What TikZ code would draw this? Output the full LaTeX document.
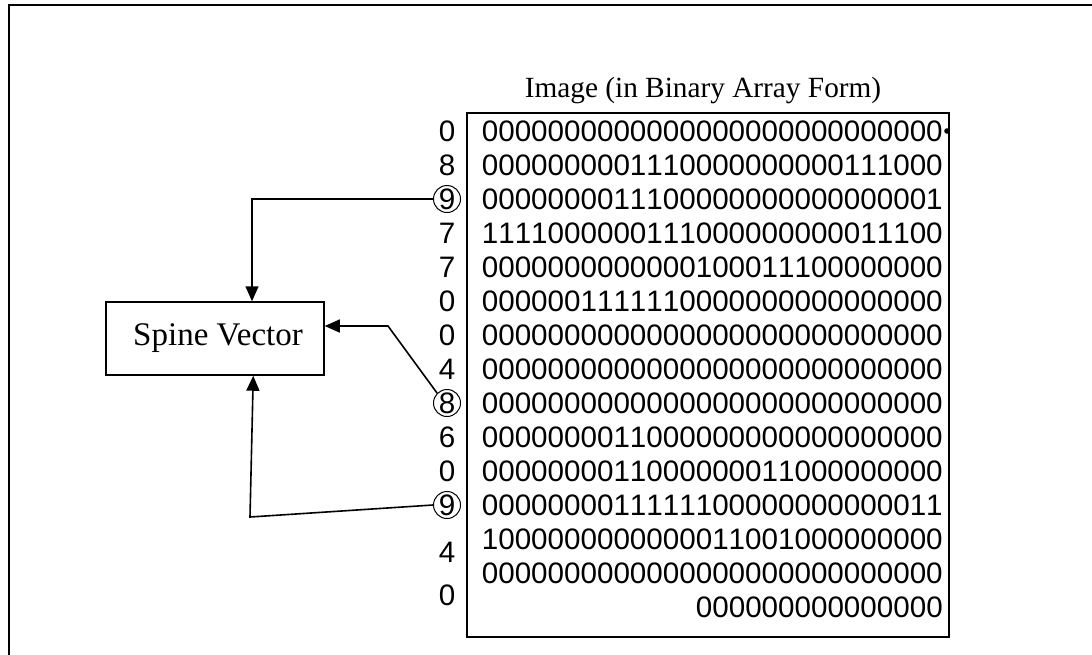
\documentclass[tikz,border=0pt]{standalone}
\usepackage{fontspec}
\setmainfont{Liberation Serif}
\newfontfamily\arialfont[Kerning=Off]{Liberation Sans}
\usetikzlibrary{arrows.meta}

\begin{document}
\begin{tikzpicture}[x=1pt,y=-1pt,
  bits/.style={anchor=east, inner sep=0pt, font=\arialfont\fontsize{29.6}{34}\selectfont},
  idx/.style={inner sep=0pt, font=\arialfont\fontsize{29.6}{34}\selectfont},
  ring/.style={idx, circle, draw, line width=1pt, minimum size=27pt},
  conn/.style={line width=1.6pt, -{Triangle[length=15pt,width=13pt]}},
  ]
\useasboundingbox (0,0) rectangle (1092,654);

% outer frame (top and left edges)
\draw[line width=2.6pt] (9,660) -- (9,5) -- (1100,5);

% title and array box
\node[font=\fontsize{29.3}{34}\selectfont] (ttl) at (703,90) {Image (in Binary Array Form)};
\node[draw, line width=1.5pt, minimum width=482pt, minimum height=524pt, inner sep=0pt] (arr) at (708,375) {};

% binary rows
\foreach \s [count=\i] in {
  0000000000000000000000000000,
  0000000001110000000000111000,
  0000000011100000000000000001,
  1111000000111000000000011100,
  0000000000000100011100000000,
  0000001111110000000000000000,
  0000000000000000000000000000,
  0000000000000000000000000000,
  0000000000000000000000000000,
  0000000011000000000000000000,
  0000000011000000011000000000,
  0000000011111100000000000011,
  1000000000000011001000000000,
  0000000000000000000000000000,
  000000000000000}
  \node[bits] (r\i) at (943,{131+34*(\i-1)}) {\s};
\fill (947,131) circle (2.8pt);

% row sums on the left
\foreach \d/\i in {0/1,8/2,7/4,7/5,0/6,0/7,4/8,6/10,0/11}
  \node[idx] (n\i) at (447,{131+34*(\i-1)}) {\d};
\node[ring] (n3) at (447,199) {9};
\node[ring] (n9) at (447,403) {8};
\node[ring] (n12) at (447,505) {9};
\node[idx] (n13) at (447,552) {4};
\node[idx] (n14) at (447,595) {0};

% spine vector box
\node[draw, line width=1.5pt, minimum width=218pt, minimum height=73pt,
      font=\fontsize{33}{38}\selectfont] (sv) at (215,338.5) {\hspace{6pt}Spine Vector};

% connectors
\coordinate (k1) at (252,199);
\coordinate (k2) at (388,326);
\coordinate (k3) at (250,517);
\path (sv.south west) ++(148,0) coordinate (k4);
\draw[conn] (n3.west) -- (k1) -- (k1 |- sv.north);
\draw[conn] (n9.north west) -- (k2) -- (k2 -| sv.east);
\draw[conn] (n12.west) -- (k3) -- (k4);
\end{tikzpicture}
\end{document}
